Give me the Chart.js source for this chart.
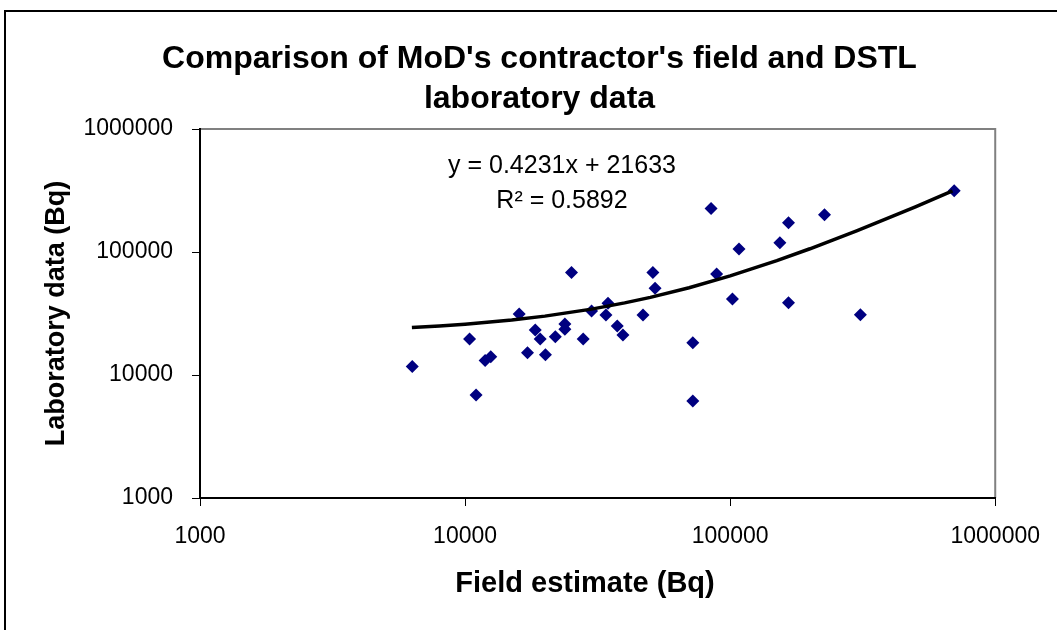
<!DOCTYPE html>
<html>
<head>
<meta charset="utf-8">
<script src="https://cdn.jsdelivr.net/npm/chart.js@4/dist/chart.umd.min.js"></script>
<style>
html,body{margin:0;padding:0;background:#fff;}
#wrap{width:1057px;height:630px;}
</style>
</head>
<body>
<div id="wrap"><canvas id="c" width="1057" height="630"></canvas></div>
<script>
const titleLines = ["Comparison of MoD's contractor's field and DSTL", "laboratory data"];
const xAxisTitle = "Field estimate (Bq)";
const yAxisTitle = "Laboratory data (Bq)";
const equationLines = ["y = 0.4231x + 21633", "R\u00B2 = 0.5892"];

const xTickValues = [1000, 10000, 100000, 1000000];
const xTickLabels = ["1000", "10000", "100000", "1000000"];
const yTickValues = [1000, 10000, 100000, 1000000];
const yTickLabels = ["1000", "10000", "100000", "1000000"];

// Field estimate (Bq) of each sample
const fieldEstimate = [6320, 10400, 11000, 11900, 12500, 16000, 17200, 18400, 19200, 20100,
  21900, 23800, 23800, 25200, 27900, 30000, 34000, 34600, 37500, 39400,
  46900, 51100, 52100, 72300, 72300, 84700, 88900, 102000, 108000, 154000,
  166000, 166000, 227000, 310000, 700000];
// Laboratory data (Bq) of each sample
const labData = [11700, 19600, 6870, 13100, 14100, 31300, 15200, 23200, 19600, 14600,
  20500, 26000, 23500, 68000, 19600, 33100, 30800, 38300, 25000, 21100,
  30800, 68000, 50700, 18300, 6150, 226000, 66200, 41500, 106000, 119000,
  173000, 38700, 201000, 30900, 315000];

// Linear trendline
const trendX = [6300, 8000, 10000, 15000, 20000, 30000, 40000, 50000, 70000, 100000,
  150000, 200000, 300000, 400000, 500000, 690000];
const trendY = [24300, 25000, 25860, 27980, 30100, 34330, 38560, 42790, 51250, 63940,
  85100, 106250, 148560, 190870, 233180, 313570];

const FONT = "'Liberation Sans', Arial, Helvetica, sans-serif";

const decor = {
  id: 'decor',
  beforeDraw(chart) {
    const ctx = chart.ctx, a = chart.chartArea;
    ctx.save();
    ctx.fillStyle = '#fff';
    ctx.fillRect(0, 0, chart.width, chart.height);
    ctx.strokeStyle = '#000';
    ctx.lineWidth = 2;
    ctx.strokeRect(5, 11, 1300, 900);
    ctx.strokeStyle = '#808080';
    ctx.lineWidth = 2;
    ctx.beginPath();
    ctx.moveTo(a.left, a.top);
    ctx.lineTo(a.right, a.top);
    ctx.lineTo(a.right, a.bottom);
    ctx.stroke();
    ctx.restore();
  },
  afterDraw(chart) {
    const ctx = chart.ctx;
    ctx.save();
    ctx.fillStyle = '#000';
    ctx.textAlign = 'center';
    ctx.textBaseline = 'alphabetic';
    ctx.font = "25px " + FONT;
    ctx.fillText(equationLines[0], 562, 173);
    ctx.fillText(equationLines[1], 562, 208);
    ctx.font = "bold 29px " + FONT;
    ctx.fillText(xAxisTitle, 585, 592);
    ctx.restore();
  }
};

new Chart(document.getElementById('c'), {
  type: 'scatter',
  data: {
    datasets: [
      {
        label: 'Linear trend',
        type: 'line',
        data: trendX.map((x, i) => ({x: x, y: trendY[i]})),
        borderColor: '#000',
        borderWidth: 3.5,
        pointRadius: 0,
        fill: false,
        tension: 0,
        order: 1
      },
      {
        label: 'Samples',
        data: fieldEstimate.map((x, i) => ({x: x, y: labData[i]})),
        pointStyle: 'rectRot',
        pointRadius: 6.5,
        pointHoverRadius: 6.5,
        backgroundColor: '#000080',
        borderColor: '#000080',
        borderWidth: 0,
        order: 2
      }
    ]
  },
  options: {
    responsive: false,
    animation: false,
    devicePixelRatio: 1,
    layout: {padding: {left: 79, right: 57, top: 39, bottom: 0}},
    plugins: {
      legend: {display: false},
      tooltip: {enabled: false},
      title: {
        display: true,
        text: titleLines,
        color: '#000',
        font: {family: FONT, size: 32, weight: 'bold', lineHeight: 1.25},
        padding: {top: 0, bottom: 10}
      }
    },
    scales: {
      x: {
        type: 'logarithmic',
        position: 'bottom',
        min: 1000,
        max: 1000000,
        afterBuildTicks: s => { s.ticks = xTickValues.map(v => ({value: v})); },
        afterFit: s => { s.height = 132; },
        ticks: {
          callback: v => { const i = xTickValues.indexOf(v); return i >= 0 ? xTickLabels[i] : ''; },
          font: {family: FONT, size: 23},
          color: '#000',
          padding: 17,
          maxRotation: 0,
          autoSkip: false
        },
        grid: {drawOnChartArea: false, drawTicks: true, tickLength: 8, color: '#000', lineWidth: 1},
        border: {display: true, color: '#000', width: 2},
        title: {display: false}
      },
      y: {
        type: 'logarithmic',
        position: 'left',
        min: 1000,
        max: 1000000,
        afterBuildTicks: s => { s.ticks = yTickValues.map(v => ({value: v})); },
        afterFit: s => { s.width = 121; },
        ticks: {
          callback: v => { const i = yTickValues.indexOf(v); return i >= 0 ? yTickLabels[i] : ''; },
          font: {family: FONT, size: 23},
          color: '#000',
          padding: 19,
          autoSkip: false
        },
        grid: {drawOnChartArea: false, drawTicks: true, tickLength: 8, color: '#000', lineWidth: 1},
        border: {display: true, color: '#000', width: 2},
        title: {
          display: true,
          text: yAxisTitle,
          color: '#000',
          font: {family: FONT, size: 27, weight: 'bold', lineHeight: 1.2},
          padding: {top: -38.6, bottom: 0}
        }
      }
    }
  },
  plugins: [decor]
});
</script>
</body>
</html>
